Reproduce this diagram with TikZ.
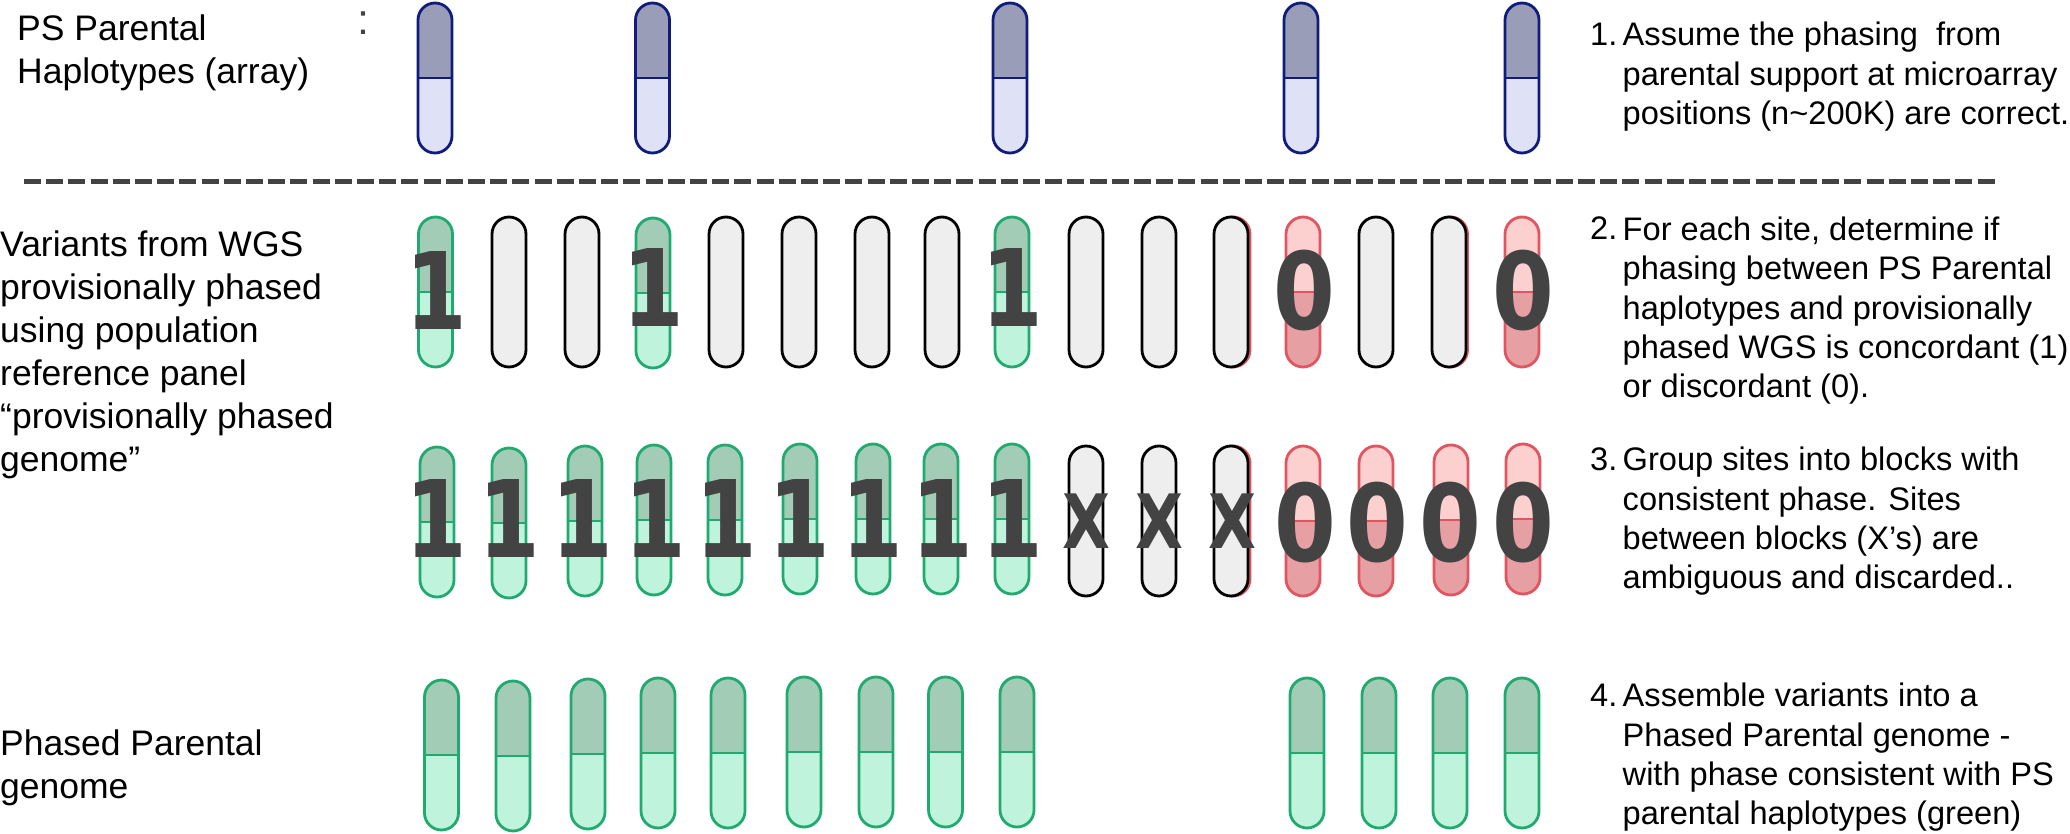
\documentclass[tikz,border=0pt]{standalone}
\usepackage{fontspec}
\setmainfont{Liberation Sans}
\newfontfamily\digitfont[FakeStretch=0.83]{DejaVu Sans}
\definecolor{navyline}{HTML}{0F1C7C}
\definecolor{navytop}{HTML}{9A9DB8}
\definecolor{navybot}{HTML}{DFE2F7}
\definecolor{greenline}{HTML}{20AA70}
\definecolor{greentop}{HTML}{A2CCB6}
\definecolor{greenbot}{HTML}{BFF3DC}
\definecolor{redline}{HTML}{E05560}
\definecolor{redtop}{HTML}{FDD0D0}
\definecolor{redbot}{HTML}{E6A0A3}
\definecolor{greyline}{HTML}{000000}
\definecolor{greytop}{HTML}{EEEEEE}
\definecolor{inkgrey}{HTML}{434343}
\tikzset{
  sidetext/.style={anchor=north west, inner sep=0pt, align=left, font=\fontsize{35.5}{43}\selectfont},
  steptext/.style={anchor=north west, inner sep=0pt, align=left, font=\fontsize{32.6}{39.3}\selectfont},
  stepnum/.style={anchor=base west, inner sep=0pt, font=\fontsize{32.6}{39.3}\selectfont},
  bigdigit/.style={text=inkgrey, inner sep=0pt, font=\digitfont\bfseries\fontsize{107}{107}\selectfont},
  bigx/.style={text=inkgrey, inner sep=0pt, font=\digitfont\bfseries\fontsize{75}{75}\selectfont},
  splitdash/.style={draw=inkgrey, line width=5pt, dash pattern=on 17pt off 5.2pt}
}
% #1 colour family, #2 centre x, #3 top y
\newcommand{\capsule}[3]{
  \fill[#1top] (#2-17,#3+76) [rounded corners=17pt] -- (#2-17,#3+1) -- (#2+17,#3+1) [sharp corners] -- (#2+17,#3+76) -- cycle;
  \fill[#1bot] (#2-17,#3+76) [rounded corners=17pt] -- (#2-17,#3+151) -- (#2+17,#3+151) [sharp corners] -- (#2+17,#3+76) -- cycle;
  \draw[draw=#1line, line width=2.6pt] (#2-17,#3+76) -- (#2+17,#3+76);
  \draw[draw=#1line, line width=2.8pt, rounded corners=17pt] (#2-17,#3+1) rectangle (#2+17,#3+151);
}
\newcommand{\blank}[2]{
  \fill[greytop, rounded corners=17pt] (#1-17,#2+1) rectangle (#1+17,#2+151);
  \draw[draw=greyline, line width=2.8pt, rounded corners=17pt] (#1-17,#2+1) rectangle (#1+17,#2+151);
}
\begin{document}
\begin{tikzpicture}[x=1pt, y=-1pt]
  \useasboundingbox (0,0) rectangle (2070,834);

  % left labels
  \node[sidetext] (arraylabel) at (17,15) {PS Parental\\Haplotypes (array)};
  \node[sidetext] (wgslabel) at (0,230.5) {Variants from WGS\\provisionally phased\\using population\\reference panel\\“provisionally phased\\genome”};
  \node[sidetext] (phasedlabel) at (0,730) {Phased Parental\\genome};
  \node[text=inkgrey, font=\fontsize{43}{43}\selectfont, inner sep=0pt] (straycolon) at (363,23) {:};

  % first row
  \capsule{navy}{435}{2}
  \capsule{navy}{652.5}{2}
  \capsule{navy}{1010}{2}
  \capsule{navy}{1301}{2}
  \capsule{navy}{1522}{2}

  \coordinate (dashstart) at (24,182);
  \coordinate (dashend) at (1996,182);
  \draw[splitdash] (dashstart) -- (dashend);

  % second row
  \capsule{green}{435.5}{216}
  \blank{509}{216}
  \blank{582}{216}
  \capsule{green}{653}{217}
  \blank{726}{216}
  \blank{799}{216}
  \blank{872}{216}
  \blank{942}{216}
  \capsule{green}{1012}{216}
  \blank{1086}{216}
  \blank{1159}{216}
  \capsule{red}{1233}{216}
  \blank{1231}{216}
  \capsule{red}{1303}{216}
  \blank{1376}{216}
  \capsule{red}{1450.5}{216}
  \blank{1449}{216}
  \capsule{red}{1522}{216}

  \node[bigdigit] (twoa) at (436,290.5) {1};
  \node[bigdigit] (twob) at (653,287.5) {1};
  \node[bigdigit] (twoc) at (1012,287.5) {1};
  \node[bigdigit] (twod) at (1304,291) {0};
  \node[bigdigit] (twoe) at (1523,291) {0};

  % third row
  \capsule{green}{437}{446}
  \capsule{green}{509}{447}
  \capsule{green}{585}{445}
  \capsule{green}{654}{444}
  \capsule{green}{725}{444}
  \capsule{green}{800}{443}
  \capsule{green}{873}{443}
  \capsule{green}{941}{443}
  \capsule{green}{1012}{443}
  \blank{1086}{445}
  \blank{1159}{445}
  \capsule{red}{1233}{445}
  \blank{1231}{445}
  \capsule{red}{1303}{445}
  \capsule{red}{1376}{445}
  \capsule{red}{1451}{444}
  \capsule{red}{1523}{443}

  \node[bigdigit] (threea) at (436,518.5) {1};
  \node[bigdigit] (threeb) at (509,518.5) {1};
  \node[bigdigit] (threec) at (582.7,518.5) {1};
  \node[bigdigit] (threed) at (655.7,518.5) {1};
  \node[bigdigit] (threee) at (726,518.5) {1};
  \node[bigdigit] (threef) at (799,518.5) {1};
  \node[bigdigit] (threeg) at (872.7,518.5) {1};
  \node[bigdigit] (threeh) at (942,518.5) {1};
  \node[bigdigit] (threei) at (1012,518.5) {1};
  \node[bigx] (threej) at (1086,521) {X};
  \node[bigx] (threek) at (1159,521) {X};
  \node[bigx] (threel) at (1232,521) {X};
  \node[bigdigit] (threem) at (1305,522.7) {0};
  \node[bigdigit] (threen) at (1377,522.7) {0};
  \node[bigdigit] (threeo) at (1450,522.7) {0};
  \node[bigdigit] (threep) at (1523,522.7) {0};

  % fourth row
  \capsule{green}{441.5}{679}
  \capsule{green}{513}{680}
  \capsule{green}{588}{678}
  \capsule{green}{658}{677}
  \capsule{green}{728}{677}
  \capsule{green}{804}{676}
  \capsule{green}{876}{676}
  \capsule{green}{945.5}{676}
  \capsule{green}{1017}{676}
  \capsule{green}{1307}{677}
  \capsule{green}{1379}{677}
  \capsule{green}{1450}{677}
  \capsule{green}{1522}{677}

  % right column
  \node[stepnum] (stepone) at (1590,45.7) {1.};
  \node[steptext] (steponetext) at (1622.5,22) {Assume the phasing\ \ from\\parental support at microarray\\positions (n\textasciitilde200K) are correct.};
  \node[stepnum] (steptwo) at (1590,240) {2.};
  \node[steptext] (steptwotext) at (1622.5,216.7) {For each site, determine if\\phasing between PS Parental\\haplotypes and provisionally\\phased WGS is concordant (1)\\or discordant (0).};
  \node[stepnum] (stepthree) at (1590,470.7) {3.};
  \node[steptext] (stepthreetext) at (1622.5,447) {Group sites into blocks with\\consistent phase. Sites\\between blocks (X’s) are\\ambiguous and discarded..};
  \node[stepnum] (stepfour) at (1590,706.7) {4.};
  \node[steptext] (stepfourtext) at (1622.5,683) {Assemble variants into a\\Phased Parental genome -\\with phase consistent with PS\\parental haplotypes (green)};
\end{tikzpicture}
\end{document}
